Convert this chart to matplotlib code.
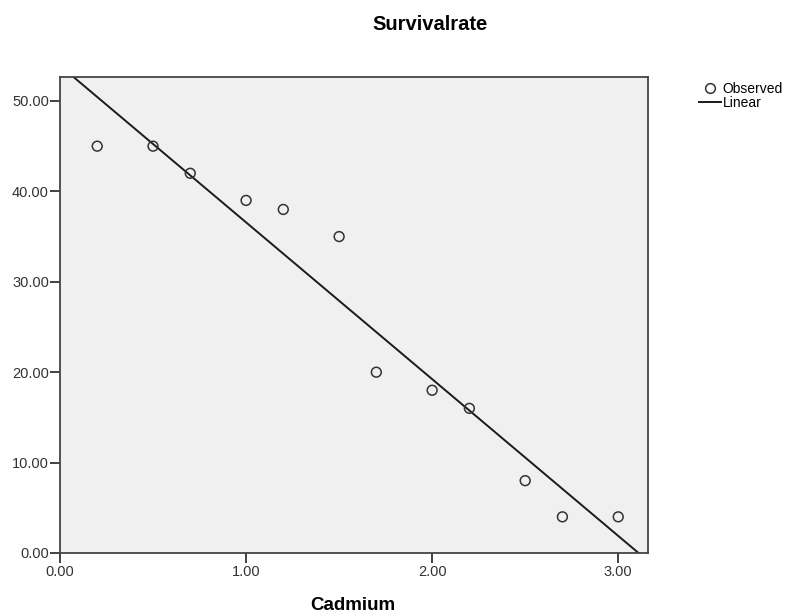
import numpy as np
import matplotlib
matplotlib.use("Agg")
import matplotlib.pyplot as plt
from matplotlib.lines import Line2D

cadmium = [0.2, 0.5, 0.7, 1.0, 1.2, 1.5, 1.7, 2.0, 2.2, 2.5, 2.7, 3.0]
survival = [45, 45, 42, 39, 38, 35, 20, 18, 16, 8, 4, 4]
x_ticks = [0.0, 1.0, 2.0, 3.0]
y_ticks = [0, 10, 20, 30, 40, 50]

plt.rcParams['font.family'] = ['Liberation Sans', 'DejaVu Sans']

W, H = 798, 615
fig = plt.figure(figsize=(W/100, H/100), dpi=100)
ax = fig.add_axes([60/W, 62/H, 588/W, 476/H])
ax.set_facecolor('#f0f0f0')

xlim = (0, 3.16)
ylim = (0, 52.65)
slope, intercept = np.polyfit(cadmium, survival, 1)
xs = np.linspace(xlim[0], xlim[1], 200)
ys = intercept + slope * xs
ax.plot(xs, ys, color='#1a1a1a', lw=1.4, zorder=2)
ax.scatter(cadmium, survival, s=50, facecolors='none', edgecolors='#333333', linewidths=1.1, zorder=3)

ax.set_xlim(*xlim)
ax.set_ylim(*ylim)
ax.set_xticks(x_ticks)
ax.set_yticks(y_ticks)
ax.set_xticklabels([f"{v:.2f}" for v in x_ticks])
ax.set_yticklabels([f"{v:.2f}" for v in y_ticks])
ax.tick_params(direction='out', length=7.5, width=1.3, colors='#333333', labelsize=10.5, pad=0.5)
ax.tick_params(axis='x', pad=1.5)
for s in ax.spines.values():
    s.set_color('#444444')
    s.set_linewidth(1.3)

fig.text(430/W, 1 - 24/H, 'Survivalrate', ha='center', va='center',
         fontsize=14.5, fontweight='bold')
fig.text(353/W, 1 - 606/H, 'Cadmium', ha='center', va='center',
         fontsize=13.5, fontweight='bold')

handles = [Line2D([], [], marker='o', linestyle='none', markerfacecolor='none',
                  markeredgecolor='#333333', markersize=7, markeredgewidth=1.1),
           Line2D([], [], color='#1a1a1a', lw=1.4)]
fig.legend(handles, ['Observed', 'Linear'], loc='upper left', bbox_to_anchor=(692/W, 1 - 75/H),
           frameon=False, fontsize=10, handlelength=1.6, handletextpad=0.1, labelspacing=0.0,
           borderpad=0)

fig.savefig('out.png', dpi=100)
